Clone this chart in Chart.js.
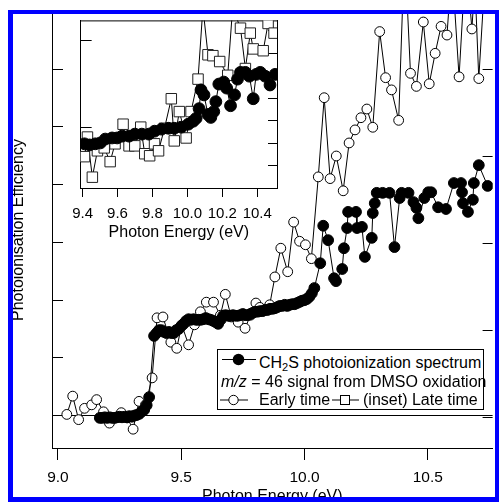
<!DOCTYPE html>
<html lang="en">
<head>
  <meta charset="UTF-8" />
  <title>CH2S photoionization spectrum</title>
  <script src="https://cdn.jsdelivr.net/npm/chart.js"></script>
  <style>
    body { margin: 0; width: 499px; height: 502px; overflow: hidden; background: #fff; position: relative;
           font-family: 'Liberation Sans', Arial, sans-serif; }
    canvas { position: absolute; }
    #legend { position: absolute; left: 217px; top: 349px; width: 267px; height: 61px; box-sizing: border-box;
              border: 1px solid #000; background: #fff; font-size: 16px; color: #000; }
    #legend span { position: absolute; line-height: 18px; white-space: nowrap; }
    #legend svg { position: absolute; }
    #legend sub { font-size: 11px; vertical-align: -3px; line-height: 0; }
    #frame { position: absolute; left: 8px; top: 10px; width: 491px; height: 492px; box-sizing: border-box;
             border: 4px solid #0000ff; border-left-width: 5px; border-bottom-width: 5px; pointer-events: none; }
  </style>
</head>
<body>

  <canvas id="main" width="499" height="512" style="left:0;top:0"></canvas>
  <canvas id="inset" width="236" height="236" style="left:64px;top:12px"></canvas>

  <!-- Legend -->
  <div id="legend">
    <svg style="left:4px;top:3px" width="34" height="13">
      <line x1="0" y1="6.5" x2="34" y2="6.5" stroke="#000" stroke-width="1"/>
      <circle cx="16.5" cy="6.5" r="5.8" fill="#000"/>
    </svg>
    <span style="left:41px;top:4px">CH<sub>2</sub>S photoionization spectrum</span>
    <span style="left:3px;top:23px"><i>m/z</i> = 46 signal from DMSO oxidation</span>
    <svg style="left:2px;top:44px" width="28" height="12">
      <line x1="0" y1="6" x2="28" y2="6" stroke="#000" stroke-width="1"/>
      <circle cx="13.5" cy="6" r="4.7" fill="#fff" stroke="#000" stroke-width="1"/>
    </svg>
    <span style="left:41px;top:41px">Early time</span>
    <svg style="left:114px;top:44px" width="27" height="12">
      <line x1="0" y1="6" x2="27" y2="6" stroke="#000" stroke-width="1"/>
      <rect x="8.5" y="1.5" width="9" height="9" fill="#fff" stroke="#000" stroke-width="1"/>
    </svg>
    <span style="left:145px;top:41px">(inset) Late time</span>
  </div>

  <div id="frame"></div>

  <script>
    // main plot, CH2S photoionization spectrum (left axis)
    const ch2sEnergy = [
      9.17, 9.18, 9.19, 9.20, 9.21, 9.22, 9.23, 9.24, 9.25, 9.26, 9.27, 9.28, 9.29, 9.30, 9.31, 9.32,
      9.33, 9.34, 9.35, 9.36, 9.37, 9.39,
      9.40, 9.41, 9.42, 9.43, 9.44, 9.45, 9.46, 9.47, 9.48, 9.49,
      9.50, 9.51, 9.52, 9.53, 9.54, 9.55, 9.56, 9.57, 9.58, 9.59,
      9.60, 9.61, 9.62, 9.63, 9.64, 9.65, 9.66, 9.67, 9.68, 9.69,
      9.70, 9.71, 9.72, 9.73, 9.74, 9.75, 9.76, 9.77, 9.78, 9.79,
      9.80, 9.81, 9.82, 9.83, 9.84, 9.85, 9.86, 9.87, 9.88, 9.89,
      9.90, 9.91, 9.92, 9.93, 9.94, 9.95, 9.96, 9.97, 9.98, 9.99,
      10.00, 10.01, 10.02, 10.03, 10.04,
      10.064, 10.076, 10.096, 10.12, 10.128, 10.153, 10.16, 10.173, 10.177, 10.209,
      10.213, 10.233, 10.245, 10.273, 10.277, 10.285, 10.293, 10.317, 10.345, 10.365,
      10.386, 10.394, 10.422, 10.442, 10.454, 10.462, 10.486, 10.502, 10.514, 10.542,
      10.574, 10.606, 10.635, 10.639, 10.643, 10.663, 10.683, 10.687, 10.707, 10.743
    ];
    const ch2sSignal = [
      -0.05, -0.05, -0.04, -0.05, -0.04, -0.05, -0.05, -0.04, -0.03, -0.04, -0.03, -0.04, -0.02, -0.03, -0.01, 0.00,
      0.02, 0.06, 0.09, 0.17, 0.31, 1.37,
      1.42, 1.47, 1.47, 1.44, 1.42, 1.44, 1.42, 1.42, 1.47, 1.49,
      1.54, 1.58, 1.63, 1.66, 1.65, 1.66, 1.65, 1.65, 1.65, 1.66,
      1.68, 1.66, 1.65, 1.63, 1.61, 1.58, 1.65, 1.72, 1.73, 1.72,
      1.72, 1.73, 1.72, 1.72, 1.73, 1.75, 1.73, 1.73, 1.75, 1.77,
      1.79, 1.79, 1.80, 1.80, 1.82, 1.82, 1.84, 1.84, 1.85, 1.87,
      1.89, 1.89, 1.91, 1.89, 1.91, 1.92, 1.92, 1.94, 1.96, 1.98,
      1.99, 2.01, 2.05, 2.11, 2.20,
      2.63, 3.28, 3.03, 2.37, 2.32, 2.53, 2.89, 3.24, 3.52, 3.52,
      3.24, 3.26, 2.74, 3.07, 3.50, 3.67, 3.85, 3.85, 3.85, 2.91,
      3.76, 3.85, 3.85, 3.69, 3.59, 3.41, 3.76, 3.86, 3.86, 3.60,
      3.57, 4.02, 4.02, 3.86, 3.67, 3.52, 3.73, 4.02, 4.33, 3.97
    ];

    // m/z = 46, early time (right axis)
    const earlyEnergy = [
      9.036, 9.060, 9.084, 9.108, 9.137, 9.157, 9.185, 9.209, 9.233, 9.257, 9.281, 9.305, 9.329, 9.355,
      9.382, 9.402, 9.426, 9.458, 9.482, 9.502, 9.530, 9.554, 9.578, 9.602, 9.631, 9.659, 9.679, 9.703,
      9.731, 9.759, 9.781, 9.803, 9.819, 9.859, 9.880, 9.904, 9.932, 9.956, 9.980, 10.004, 10.028,
      10.056, 10.080, 10.104, 10.129, 10.157, 10.181, 10.205, 10.229, 10.253, 10.277, 10.305, 10.329,
      10.353, 10.382, 10.406, 10.430, 10.454, 10.482, 10.506, 10.530, 10.554, 10.578, 10.598, 10.627,
      10.655, 10.679, 10.691, 10.707, 10.735
    ];
    const earlySignal = [
      0.03, 0.24, -0.03, 0.10, 0.14, 0.20, 0.06, -0.07, -0.01, 0.05, -0.01, -0.14, 0.18, 0.14,
      0.45, 1.14, 1.15, 0.86, 0.79, 1.06, 0.83, 1.06, 1.21, 1.32, 1.32, 1.17, 1.41, 1.15,
      1.09, 1.02, 1.17, 1.31, 1.26, 1.29, 1.61, 1.94, 1.67, 2.24, 2.02, 1.98, 1.82,
      2.76, 3.67, 2.74, 3.00, 2.60, 3.15, 3.30, 3.44, 3.54, 3.33, 4.43, 3.90,
      3.76, 3.41, 5.40, 3.95, 3.80, 4.54, 3.83, 4.18, 4.49, 4.39, 5.20, 3.91,
      5.30, 4.46, 5.00, 3.89, 5.20
    ];

    // inset, CH2S spectrum and late time signal
    const insetCh2sEnergy = [
      9.411, 9.440, 9.473, 9.502, 9.530, 9.569, 9.598, 9.626, 9.666, 9.699, 9.739, 9.779, 9.812, 9.852,
      9.892, 9.925, 9.965, 10.005, 10.033, 10.050, 10.067, 10.078, 10.095, 10.118, 10.134, 10.151, 10.163,
      10.180, 10.208, 10.225, 10.247, 10.270, 10.287, 10.304, 10.332, 10.355, 10.377, 10.394, 10.417,
      10.445, 10.473, 10.502
    ];
    const insetCh2sSignal = [
      1.96, 1.91, 1.96, 2.00, 2.17, 2.22, 2.22, 2.30, 2.30, 2.39, 2.39, 2.39, 2.52, 2.61,
      2.65, 2.65, 2.70, 2.83, 2.96, 3.09, 3.52, 4.35, 4.13, 3.26, 3.13, 3.39, 3.83,
      4.61, 4.70, 4.43, 3.65, 4.13, 4.83, 5.13, 5.13, 4.96, 3.96, 5.04, 5.13,
      4.96, 4.57, 5.04
    ];
    const lateEnergy = [
      9.411, 9.428, 9.456, 9.485, 9.524, 9.558, 9.586, 9.632, 9.666, 9.699, 9.733, 9.756, 9.784, 9.812,
      9.835, 9.869, 9.908, 9.925, 9.954, 9.993, 10.021, 10.061, 10.089, 10.118, 10.146, 10.185, 10.231,
      10.259, 10.304, 10.332, 10.360, 10.377, 10.434, 10.462, 10.496
    ];
    const lateSignal = [
      1.39, 2.26, 0.48, 1.65, 1.78, 1.17, 1.96, 2.83, 1.87, 1.87, 2.70, 1.52, 1.43, 1.96,
      1.65, 2.65, 3.96, 2.09, 3.39, 2.22, 3.39, 4.83, 8.00, 5.91, 5.87, 5.61, 5.00,
      8.00, 7.09, 5.30, 6.87, 6.17, 6.09, 7.30, 6.87
    ];

    // tick positions
    const mainXTicks = [9.0, 9.5, 10.0, 10.5];
    const mainLeftTicks = [0, 1, 2, 3, 4, 5, 6];
    const mainRightTicks = [0, 1, 2, 3, 4];
    const insetXTicks = [9.4, 9.6, 9.8, 10.0, 10.2, 10.4];
    const insetLeftTicks = [1, 2];
    const insetRightTicks = [1, 2, 3, 4, 5, 6, 7];

    const FONT = "'Liberation Sans', Arial, sans-serif";
    const pts = (xs, ys) => xs.map((x, i) => ({ x, y: ys[i] }));
    const setTicks = list => s => { s.ticks = list.map(value => ({ value })); };

    // inward tick marks, zero line and inset box
    const innerTicks = {
      id: 'innerTicks',
      beforeDraw(chart, args, opts) {
        if (!opts.fill) return;
        const a = chart.chartArea, ctx = chart.ctx;
        ctx.save();
        ctx.fillStyle = '#fff';
        ctx.fillRect(a.left, a.top, a.right - a.left, a.bottom - a.top);
        ctx.restore();
      },
      beforeDatasetsDraw(chart, args, opts) {
        const a = chart.chartArea, ctx = chart.ctx;
        ctx.save();
        ctx.strokeStyle = '#000';
        ctx.lineWidth = 1;
        (opts.scales || []).forEach(spec => {
          const s = chart.scales[spec.id];
          const left = s.position === 'left';
          const x0 = left ? a.left : a.right;
          s.ticks.forEach(t => {
            const y = Math.round(s.getPixelForValue(t.value)) + 0.5;
            if (y < a.top || y > a.bottom) return;
            ctx.beginPath();
            ctx.moveTo(x0, y);
            ctx.lineTo(x0 + (left ? spec.len : -spec.len), y);
            ctx.stroke();
          });
        });
        if (opts.zero) {
          const y = Math.round(chart.scales[opts.zero].getPixelForValue(0)) + 0.5;
          ctx.beginPath();
          ctx.moveTo(a.left, y);
          ctx.lineTo(a.right, y);
          ctx.stroke();
        }
        if (opts.box) {
          ctx.beginPath();
          ctx.moveTo(a.left, a.top + 0.5);
          ctx.lineTo(a.right, a.top + 0.5);
          ctx.stroke();
        }
        ctx.restore();
      }
    };

    // main chart
    new Chart(document.getElementById('main'), {
      type: 'scatter',
      data: {
        datasets: [
          {
            data: pts(ch2sEnergy, ch2sSignal), yAxisID: 'y', showLine: true,
            borderColor: '#000', borderWidth: 1,
            pointRadius: 5.4, pointBackgroundColor: '#000', pointBorderColor: '#000', pointBorderWidth: 1
          },
          {
            data: pts(earlyEnergy, earlySignal), yAxisID: 'y2', showLine: true,
            borderColor: '#000', borderWidth: 1,
            pointRadius: 4.9, pointBackgroundColor: '#fff', pointBorderColor: '#000', pointBorderWidth: 1
          }
        ]
      },
      options: {
        responsive: false, animation: false, devicePixelRatio: 1,
        layout: { padding: { top: 12, right: 2, left: 0, bottom: 0 } },
        plugins: {
          legend: { display: false }, tooltip: { enabled: false },
          innerTicks: { scales: [{ id: 'y', len: 11 }, { id: 'y2', len: 10 }], zero: 'y' }
        },
        scales: {
          x: {
            type: 'linear', position: 'bottom', min: 8.976, max: 10.763,
            afterBuildTicks: setTicks(mainXTicks),
            afterFit: s => { s.height = 64; },
            ticks: { color: '#000', font: { family: FONT, size: 15.5 }, padding: 8, maxRotation: 0,
                     autoSkip: false, callback: v => v.toFixed(1) },
            grid: { drawOnChartArea: false, color: '#000', tickLength: 12 },
            border: { color: '#000', width: 1 },
            title: { display: true, text: 'Photon Energy (eV)', color: '#000',
                     font: { family: FONT, size: 16 }, padding: { top: 0, bottom: 5.4 } }
          },
          y: {
            type: 'linear', position: 'left', min: -0.572, max: 6.984,
            afterBuildTicks: setTicks(mainLeftTicks),
            afterFit: s => { s.width = 52; },
            ticks: { display: false }, grid: { display: false },
            border: { color: '#000', width: 1 },
            title: { display: true, text: 'Photoionisation Efficiency', color: '#000',
                     font: { family: FONT, size: 16 }, padding: { top: 9, bottom: 0 } }
          },
          y2: {
            type: 'linear', position: 'right', min: -0.356, max: 4.655,
            afterBuildTicks: setTicks(mainRightTicks),
            afterFit: s => { s.width = 0; },
            ticks: { display: false }, grid: { display: false }, border: { display: false }
          }
        }
      },
      plugins: [innerTicks]
    });

    // inset chart
    new Chart(document.getElementById('inset'), {
      type: 'scatter',
      data: {
        datasets: [
          {
            data: pts(insetCh2sEnergy, insetCh2sSignal), yAxisID: 'y', showLine: true,
            borderColor: '#000', borderWidth: 1,
            pointRadius: 5.9, pointBackgroundColor: '#000', pointBorderColor: '#000', pointBorderWidth: 1
          },
          {
            data: pts(lateEnergy, lateSignal), yAxisID: 'y', showLine: true,
            borderColor: '#000', borderWidth: 1, pointStyle: 'rect',
            pointRadius: 7.4, pointBackgroundColor: '#fff', pointBorderColor: '#222', pointBorderWidth: 1
          }
        ]
      },
      options: {
        responsive: false, animation: false, devicePixelRatio: 1,
        layout: { padding: { top: 5, right: 23, left: 14, bottom: 0 } },
        plugins: {
          legend: { display: false }, tooltip: { enabled: false },
          innerTicks: { scales: [{ id: 'yl', len: 11 }, { id: 'y', len: 9 }], box: true, fill: true }
        },
        scales: {
          x: {
            type: 'linear', position: 'bottom', min: 9.389, max: 10.513,
            afterBuildTicks: setTicks(insetXTicks),
            afterFit: s => { s.height = 60; },
            ticks: { color: '#000', font: { family: FONT, size: 15 }, padding: 8, maxRotation: 0,
                     autoSkip: false, callback: v => v.toFixed(1) },
            grid: { drawOnChartArea: false, color: '#000', tickLength: 9 },
            border: { color: '#000', width: 1 },
            title: { display: true, text: 'Photon Energy (eV)', color: '#000',
                     font: { family: FONT, size: 16 }, padding: { top: 0, bottom: 6 } }
          },
          yl: {
            type: 'linear', position: 'left', min: 0.303, max: 2.225,
            afterBuildTicks: setTicks(insetLeftTicks),
            afterFit: s => { s.width = 0; },
            ticks: { display: false }, grid: { display: false },
            border: { color: '#000', width: 1 }
          },
          y: {
            type: 'linear', position: 'right', min: 0, max: 7.435,
            afterBuildTicks: setTicks(insetRightTicks),
            afterFit: s => { s.width = 0; },
            ticks: { display: false }, grid: { display: false },
            border: { color: '#000', width: 1 }
          }
        }
      },
      plugins: [innerTicks]
    });
  </script>

</body>
</html>
